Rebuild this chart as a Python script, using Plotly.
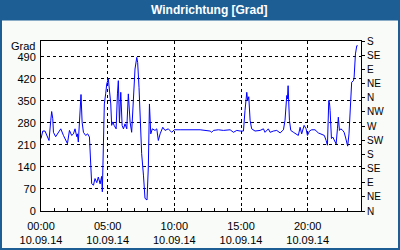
import plotly.graph_objects as go
import pandas as pd

# ---- data (10.09.14) ----
times = [
    "00:00", "00:08", "00:18", "00:26", "00:36", "00:44", "00:48", "00:53", "00:56", "01:06",
    "01:18", "01:29", "01:41", "01:53", "01:59", "02:08", "02:18", "02:26", "02:33", "02:41",
    "02:44", "02:48", "02:53", "02:57", "03:00", "03:05", "03:11", "03:21", "03:30", "03:38",
    "03:44", "03:48", "03:56", "04:03", "04:11", "04:18", "04:26", "04:33", "04:36", "04:41",
    "04:45", "04:51", "04:56", "05:03", "05:08", "05:14", "05:18", "05:23", "05:29", "05:38",
    "05:44", "05:48", "05:53", "05:59", "06:05", "06:11", "06:18", "06:26", "06:33", "06:41",
    "06:48", "06:56", "07:03", "07:11", "07:15", "07:21", "07:26", "07:33", "07:41", "07:48",
    "07:57", "08:03", "08:08", "08:14", "08:21", "08:33", "08:41", "08:48", "08:56", "09:08",
    "09:18", "09:33", "09:48", "10:00", "10:26", "10:56", "11:26", "11:41", "11:56", "12:41",
    "12:48", "12:56", "13:18", "13:41", "14:11", "14:26", "14:41", "14:56", "15:11", "15:18",
    "15:26", "15:30", "15:35", "15:41", "15:48", "16:03", "16:26", "16:41", "16:48", "17:03",
    "17:11", "17:26", "17:41", "17:56", "18:11", "18:18", "18:26", "18:29", "18:32", "18:38",
    "18:44", "18:56", "19:11", "19:18", "19:26", "19:33", "19:44", "19:53", "19:59", "20:08",
    "20:18", "20:33", "20:48", "21:03", "21:15", "21:23", "21:29", "21:35", "21:38", "21:41",
    "21:47", "21:53", "22:00", "22:08", "22:14", "22:18", "22:23", "22:29", "22:38", "22:44",
    "22:50", "22:56", "23:00", "23:06", "23:11", "23:18", "23:26", "23:29", "23:35", "23:41",
    "23:45",
]
values = [
    230, 254, 254, 240, 224, 288, 316, 293, 250, 236,
    250, 261, 240, 224, 214, 256, 240, 245, 261, 236,
    245, 219, 277, 330, 370, 282, 250, 240, 245, 235,
    140, 87, 82, 103, 90, 108, 86, 110, 61, 254,
    340, 372, 404, 420, 383, 340, 272, 283, 272, 261,
    372, 414, 282, 377, 272, 261, 277, 261, 372, 282,
    250, 372, 451, 488, 472, 393, 303, 182, 114, 40,
    35, 140, 340, 245, 261, 256, 261, 224, 245, 266,
    256, 261, 250, 258, 258, 258, 258, 256, 258, 254,
    250, 256, 258, 256, 258, 250, 256, 254, 254, 319,
    377, 350, 363, 288, 261, 254, 256, 261, 250, 261,
    250, 254, 256, 248, 258, 288, 367, 356, 398, 288,
    256, 250, 243, 240, 266, 245, 272, 261, 240, 254,
    258, 258, 248, 243, 240, 224, 209, 351, 345, 319,
    230, 235, 224, 213, 261, 298, 256, 261, 256, 250,
    235, 219, 206, 245, 330, 409, 414, 425, 499, 525,
    525,
]
date_str = "2014-09-10"
date_label = "10.09.14"
x_tick_hours = ["00:00", "05:00", "10:00", "15:00", "20:00"]
y_left_ticks = [0, 70, 140, 210, 280, 350, 420, 490]
compass_vals = [0, 45, 90, 135, 180, 225, 270, 315, 360, 405, 450, 495, 540]
compass_labels = ["N", "NE", "E", "SE", "S", "SW", "W", "NW", "N", "NE", "E", "SE", "S"]
title_text = "Windrichtung [Grad]"
unit_label = "Grad"

# ---- figure ----
BLUE_FRAME = "#1d5f95"
FONT = "Liberation Sans, Arial, sans-serif"

x = pd.to_datetime([f"{date_str} {t}" for t in times])
tickvals = pd.to_datetime([f"{date_str} {t}" for t in x_tick_hours])
x_range = [pd.Timestamp(f"{date_str} 00:00"), pd.Timestamp(f"{date_str} 00:00") + pd.Timedelta(hours=24)]

fig = go.Figure()
fig.add_trace(go.Scatter(x=x, y=values, mode="lines",
                         line=dict(color="#0000ff", width=1),
                         hoverinfo="skip", showlegend=False))
# invisible copy so that the secondary (date / compass) axes are drawn
fig.add_trace(go.Scatter(x=x, y=values, mode="lines", xaxis="x2", yaxis="y2",
                         line=dict(color="rgba(0,0,0,0)", width=0),
                         hoverinfo="skip", showlegend=False))

L, R, T, B = 41, 39, 41, 39
W, H = 400, 250
pw, ph = W - L - R, H - T - B


def px(xp):
    return (xp - L) / pw


def py(yp):
    return (H - B - yp) / ph


grid = dict(showgrid=True, gridcolor="black", gridwidth=1, griddash="3px,3px")

fig.update_layout(
    width=W, height=H,
    margin=dict(l=L, r=R, t=T, b=B, pad=0, autoexpand=False),
    paper_bgcolor="#f8fbf8",
    plot_bgcolor="white",
    showlegend=False,
    font=dict(family=FONT, size=11, color="black"),
    xaxis=dict(
        type="date", range=x_range, automargin=False,
        tickvals=tickvals, ticktext=x_tick_hours,
        ticks="inside", ticklen=3, tickcolor="black",
        minor=dict(dtick=3600000, tick0=f"{date_str} 00:00", ticks="inside",
                   ticklen=3, tickcolor="black", showgrid=False),
        showline=True, linecolor="black", linewidth=1, mirror=True,
        zeroline=False, tickfont=dict(family=FONT, size=11, color="black"),
        ticklabelstandoff=5,
        **grid,
    ),
    xaxis2=dict(
        type="date", range=x_range, overlaying="x", side="bottom", automargin=False,
        tickvals=tickvals, ticktext=[date_label] * len(x_tick_hours),
        ticks="", showline=False, showgrid=False, zeroline=False,
        tickfont=dict(family=FONT, size=11, color="black"),
        ticklabelstandoff=21,
    ),
    yaxis=dict(
        range=[0, 540], tickvals=y_left_ticks, automargin=False,
        ticks="", showline=True, linecolor="black", linewidth=1,
        zeroline=False, tickfont=dict(family=FONT, size=11, color="black"),
        ticklabelstandoff=2,
        **grid,
    ),
    yaxis2=dict(
        range=[0, 540], overlaying="y", side="right", automargin=False,
        tickvals=compass_vals, ticktext=compass_labels,
        ticks="outside", ticklen=3, tickcolor="black",
        showline=True, linecolor="black", linewidth=1,
        showgrid=False, zeroline=False,
        tickfont=dict(family=FONT, size=10, color="black"),
    ),
    shapes=[
        dict(type="rect", xref="paper", yref="paper",
             x0=px(-5), x1=px(405), y0=py(20.5), y1=py(-5),
             fillcolor=BLUE_FRAME, line=dict(width=0), layer="above"),
        dict(type="rect", xref="paper", yref="paper",
             x0=px(1), x1=px(399), y0=py(249), y1=py(1),
             fillcolor="rgba(0,0,0,0)", line=dict(color=BLUE_FRAME, width=2), layer="above"),
    ],
    annotations=[
        dict(text=f"<b>{title_text}</b>", xref="paper", yref="paper",
             x=px(209.5), y=py(10.5), xanchor="center", yanchor="middle",
             showarrow=False, font=dict(family=FONT, size=12, color="white")),
        dict(text=unit_label, xref="paper", yref="paper",
             x=px(36.5), y=py(45.5), xanchor="right", yanchor="middle",
             showarrow=False, font=dict(family=FONT, size=11, color="black")),
    ],
)

fig.write_html("out.html")
